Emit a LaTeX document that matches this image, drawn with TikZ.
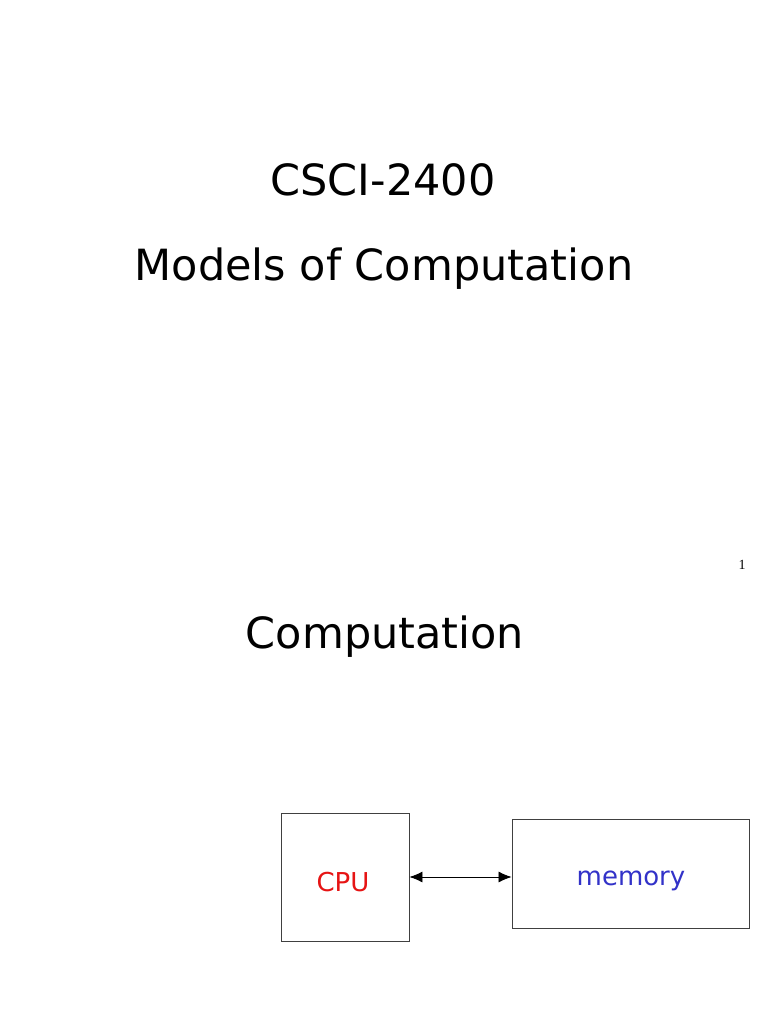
\documentclass[tikz,border=0pt]{standalone}
\usepackage{fontspec}
\setmainfont{DejaVu Sans}
\newfontfamily\pagenum{Liberation Serif}
\usetikzlibrary{arrows.meta}
\definecolor{cpured}{RGB}{230,20,20}
\definecolor{memblue}{RGB}{50,50,200}
\begin{document}
\begin{tikzpicture}[x=1pt,y=-1pt,
  >={Latex[length=13pt,width=11pt]},
  title/.style={font=\fontsize{43}{43}\selectfont, inner sep=0pt, anchor=base},
  unitbox/.style={draw=black!75, line width=0.9pt, inner sep=0pt},
  label/.style={font=\fontsize{26}{26}\selectfont, inner sep=0pt, anchor=base},
  link/.style={<->, line width=0.8pt}]
\useasboundingbox (0,0) rectangle (768,1024);
\node[title] (t1) at (383,196) {CSCI-2400};
\node[title] (t2) at (384,280) {Models of Computation};
\node[font=\pagenum\fontsize{14}{14}\selectfont, inner sep=0pt] (pn) at (742,565) {1};
\node[title] (t3) at (385,648) {Computation};
\node[unitbox, minimum width=128pt, minimum height=128pt] (cpu) at (345,877) {};
\node[unitbox, minimum width=237pt, minimum height=109pt] (mem) at (630.5,873.5) {};
\node[label, text=cpured] (cput) at (343,891) {CPU};
\node[label, text=memblue] (memt) at (631,885) {memory};
\draw[link] (cpu.east |- 0,877) -- (mem.west |- 0,877);
\end{tikzpicture}
\end{document}
